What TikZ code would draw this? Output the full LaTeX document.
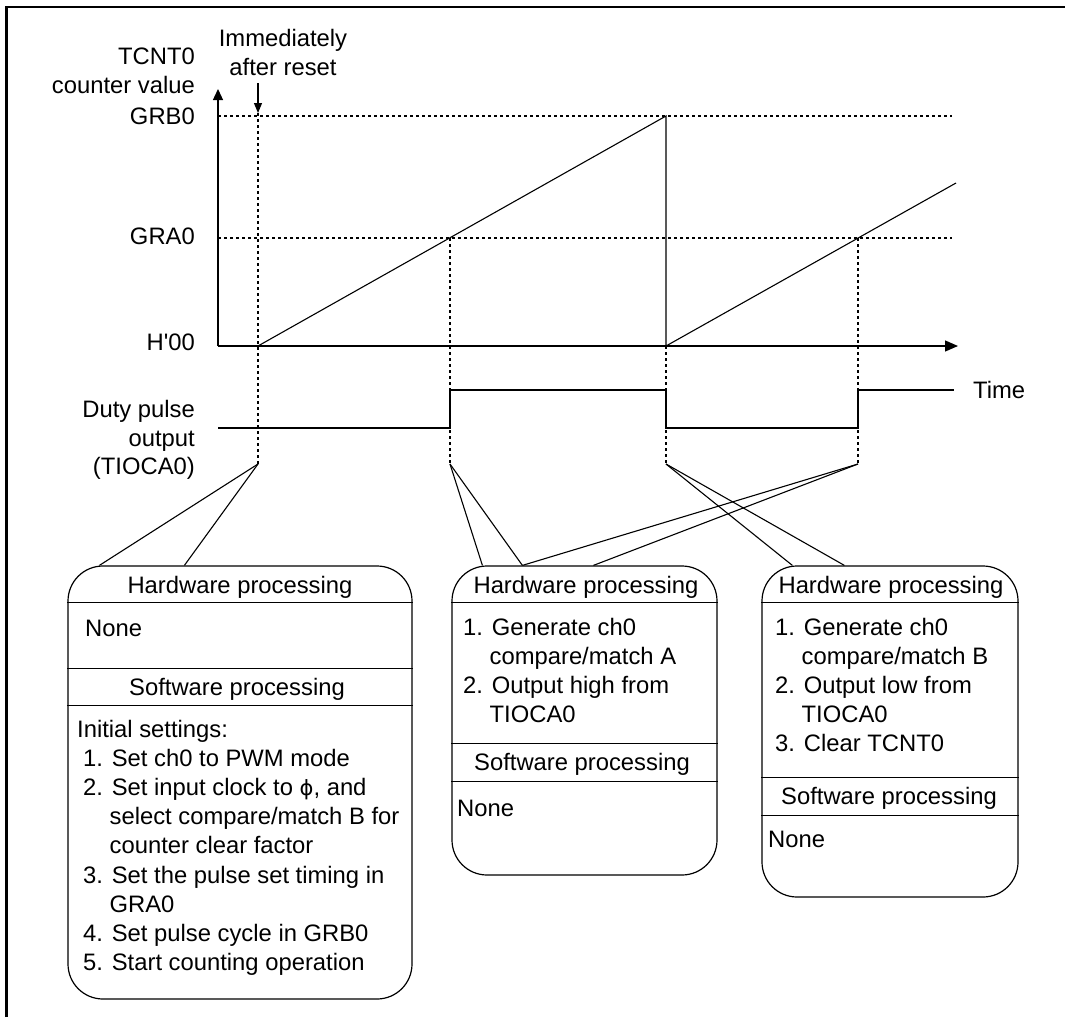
\documentclass[tikz,border=0pt]{standalone}
\usepackage{fontspec}
\setmainfont{Liberation Sans}
\newfontfamily\dejavu{DejaVu Sans}
\usetikzlibrary{arrows.meta,calc}
\begin{document}
\begin{tikzpicture}[x=1pt,y=-1pt,
  every node/.style={inner sep=0pt, font=\fontsize{23.8}{29.2}\selectfont},
  thinline/.style={line width=1.1pt},
  dotline/.style={line width=1.2pt, dash pattern=on 3pt off 3pt},
  axisline/.style={line width=1.3pt},
  pbox/.style={draw, line width=1.2pt, rounded corners=35pt},
  sepline/.style={line width=1.2pt},
  lbl/.style={anchor=base east},
]
\useasboundingbox (0,0) rectangle (1065,1017);
% frame
\draw[line width=2.5pt] (6.5,1017) -- (6.5,7) -- (1065,7);

% coordinates
\coordinate (O) at (218,346);
\coordinate (Ytop) at (218,89);
\coordinate (Xend) at (958,346);
\coordinate (r0) at (258,464);
\coordinate (r1) at (450,464);
\coordinate (r2) at (666,464);
\coordinate (r3) at (858,464);

% dotted guides
\draw[dotline] (218,116) -- (952,116);
\draw[dotline] (218,238) -- (952,238);
\draw[dotline] (258,113) -- (r0);
\draw[dotline] (450,238) -- (r1);
\draw[dotline] (666,346) -- (r2);
\draw[dotline] (858,238) -- (r3);

% axes
\draw[axisline,-{Triangle[length=11pt,width=10pt]}] (O) -- (Ytop);
\draw[axisline,-{Triangle[length=13pt,width=11pt]}] (O) -- (Xend);

% counter ramp
\draw[thinline] (258,346) -- (666,116) -- (666,346) -- (956,183);
% pulse
\draw[thinline] (218,428) -- (450,428) -- (450,390) -- (666,390) -- (666,428) -- (858,428) -- (858,390) -- (954,390);
% reset arrow
\draw[thinline,-{Triangle[length=10pt,width=8pt]}] (258,83) -- (258,113);

% labels
\node[lbl] (lT) at (195,64) {TCNT0};
\node[lbl] (lC) at (195,93) {counter value};
\node[lbl] (lB) at (195,124.5) {GRB0};
\node[lbl] (lA) at (195,244) {GRA0};
\node[lbl] (lH) at (195,350) {H\textquotesingle 00};
\node[lbl] (lD) at (195,417) {Duty pulse};
\node[lbl] (lO) at (195,446) {output};
\node[lbl] (lP) at (195,474.5) {(TIOCA0)};
\node[anchor=base] (lI) at (283,46) {Immediately};
\node[anchor=base] (lR) at (283,75) {after reset};
\node[anchor=base west] (lTime) at (973,398) {Time};

% boxes
\node[pbox, minimum width=344pt, minimum height=433pt] (b1) at (240,782.5) {};
\node[pbox, minimum width=265pt, minimum height=309pt] (b2) at (584.5,720.5) {};
\node[pbox, minimum width=256pt, minimum height=331pt] (b3) at (890,731.5) {};

% separators
\draw[sepline] ([yshift=-37pt]b1.north west) -- ([yshift=-37pt]b1.north east);
\draw[sepline] ([yshift=-103pt]b1.north west) -- ([yshift=-103pt]b1.north east);
\draw[sepline] ([yshift=-140pt]b1.north west) -- ([yshift=-140pt]b1.north east);
\draw[sepline] ([yshift=-37pt]b2.north west) -- ([yshift=-37pt]b2.north east);
\draw[sepline] ([yshift=-178pt]b2.north west) -- ([yshift=-178pt]b2.north east);
\draw[sepline] ([yshift=-216pt]b2.north west) -- ([yshift=-216pt]b2.north east);
\draw[sepline] ([yshift=-37pt]b3.north west) -- ([yshift=-37pt]b3.north east);
\draw[sepline] ([yshift=-212pt]b3.north west) -- ([yshift=-212pt]b3.north east);
\draw[sepline] ([yshift=-250pt]b3.north west) -- ([yshift=-250pt]b3.north east);

% connectors
\draw[thinline] (r0) -- ([xshift=32pt]b1.north west);
\draw[thinline] (r0) -- ([xshift=117pt]b1.north west);
\draw[thinline] (r1) -- ([xshift=31pt]b2.north west);
\draw[thinline] (r1) -- ([xshift=71pt]b2.north west);
\draw[thinline] (r3) -- ([xshift=71pt]b2.north west);
\draw[thinline] (r3) -- ([xshift=142pt]b2.north west);
\draw[thinline] (r2) -- ([xshift=31pt]b3.north west);
\draw[thinline] (r2) -- ([xshift=83pt]b3.north west);

% box 1 text
\node[anchor=base] (h1) at (240,593) {Hardware processing};
\node[anchor=base west] (n1) at (85,636) {None};
\node[anchor=base] (s1) at (237,695) {Software processing};
\node[anchor=base west] (t1) at (77,737) {\begin{tabular}[t]{@{}l@{}}
Initial settings:\\
\hspace{6pt}1. Set ch0 to PWM mode\\
\hspace{6pt}2. Set input clock to {\dejavu\fontsize{21}{29.2}\selectfont ϕ}, and\\
\hspace{6pt}\hphantom{2.\ }select compare/match B for\\
\hspace{6pt}\hphantom{2.\ }counter clear factor\\
\hspace{6pt}3. Set the pulse set timing in\\
\hspace{6pt}\hphantom{3.\ }GRA0\\
\hspace{6pt}4. Set pulse cycle in GRB0\\
\hspace{6pt}5. Start counting operation
\end{tabular}};

% box 2 text
\node[anchor=base] (h2) at (586,593) {Hardware processing};
\node[anchor=base west] (t2) at (463,635) {\begin{tabular}[t]{@{}l@{}}
1. Generate ch0\\
\hphantom{1.\ }compare/match A\\
2. Output high from\\
\hphantom{2.\ }TIOCA0
\end{tabular}};
\node[anchor=base] (s2) at (582,770) {Software processing};
\node[anchor=base west] (n2) at (457,816) {None};

% box 3 text
\node[anchor=base] (h3) at (891,593) {Hardware processing};
\node[anchor=base west] (t3) at (775,635) {\begin{tabular}[t]{@{}l@{}}
1. Generate ch0\\
\hphantom{1.\ }compare/match B\\
2. Output low from\\
\hphantom{2.\ }TIOCA0\\
3. Clear TCNT0
\end{tabular}};
\node[anchor=base] (s3) at (889,804) {Software processing};
\node[anchor=base west] (n3) at (768,847) {None};
\end{tikzpicture}
\end{document}
